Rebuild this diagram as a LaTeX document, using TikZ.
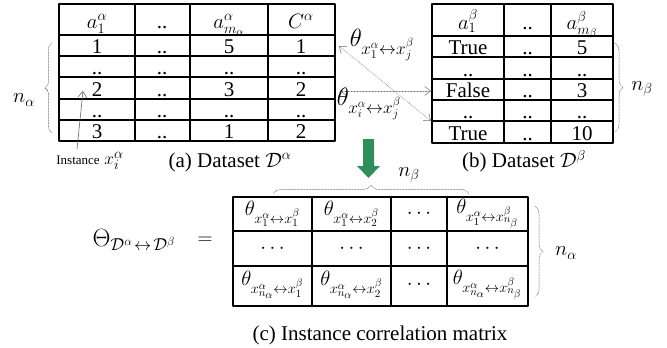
\documentclass[tikz,border=0pt]{standalone}
\usepackage{fontspec}
\setmainfont{Liberation Serif}
\usetikzlibrary{arrows.meta,decorations.pathreplacing}
\definecolor{arrowgreen}{RGB}{46,143,90}
\begin{document}
\begin{tikzpicture}[x=1pt,y=-1pt,line cap=round,line join=round,
  font=\fontsize{21}{24}\selectfont,
  tab/.style={line width=1.1pt},
  cell/.style={anchor=base,inner sep=0pt},
  mcell/.style={inner sep=0pt,font=\fontsize{22}{24}\selectfont},
  dotarr/.style={black!55,line width=0.5pt,densely dotted,{Straight Barb[length=6pt,width=9pt]}-{Straight Barb[length=6pt,width=9pt]}},
  dotbrace/.style={black!70,line width=0.5pt,densely dotted,decorate,decoration={brace,amplitude=#1}}]
  \useasboundingbox (0,0) rectangle (667,348);
  % (a) dataset alpha
  \draw[tab] (59,4) rectangle (335,141);
  \draw[tab] (59,35) -- (335,35);
  \draw[tab] (59,56) -- (335,56);
  \draw[tab] (59,77) -- (335,77);
  \draw[tab] (59,99) -- (335,99);
  \draw[tab] (59,120) -- (335,120);
  \draw[tab] (135,4) -- (135,141);
  \draw[tab] (190,4) -- (190,141);
  \draw[tab] (268,4) -- (268,141);
  \node[cell] (ah1) at (97,28) {$a_1^{\alpha}$};
  \node[cell] (ah2) at (162,28) {..};
  \node[cell] (ah3) at (229,28) {$a_{m_{\alpha}}^{\alpha}$};
  \node[cell] (ah4) at (301,28) {$C^{\alpha}$};
  \node[cell] (a11) at (97,53) {1};
  \node[cell] (a12) at (162,53) {..};
  \node[cell] (a13) at (229,53) {5};
  \node[cell] (a14) at (301,53) {1};
  \node[cell] (a21) at (97,74) {..};
  \node[cell] (a22) at (162,74) {..};
  \node[cell] (a23) at (229,74) {..};
  \node[cell] (a24) at (301,74) {..};
  \node[cell] (a31) at (97,96) {2};
  \node[cell] (a32) at (162,96) {..};
  \node[cell] (a33) at (229,96) {3};
  \node[cell] (a34) at (301,96) {2};
  \node[cell] (a41) at (97,117) {..};
  \node[cell] (a42) at (162,117) {..};
  \node[cell] (a43) at (229,117) {..};
  \node[cell] (a44) at (301,117) {..};
  \node[cell] (a51) at (97,138) {3};
  \node[cell] (a52) at (162,138) {..};
  \node[cell] (a53) at (229,138) {1};
  \node[cell] (a54) at (301,138) {2};
  \draw[dotbrace=7pt] (52,133) -- (52,43);
  \node (na) at (24,100) {$n_{\alpha}$};
  \node[font=\fontsize{19}{21}\selectfont] (inst) at (90,161) {{\fontsize{13}{15}\selectfont Instance} $x_i^{\alpha}$};
  \coordinate (ifoot) at (77,149);
  \coordinate (itip) at (83,91);
  \draw[black!60,line width=0.6pt,-{Straight Barb[length=6pt,width=9pt]}] (ifoot) -- (itip);
  \node (capa) at (230,162) {(a) Dataset $\mathcal{D}^{\alpha}$};
  % (b) dataset beta
  \draw[tab] (432,4) rectangle (613,143);
  \draw[tab] (432,36) -- (613,36);
  \draw[tab] (432,57) -- (613,57);
  \draw[tab] (432,79) -- (613,79);
  \draw[tab] (432,100) -- (613,100);
  \draw[tab] (432,121) -- (613,121);
  \draw[tab] (504,4) -- (504,143);
  \draw[tab] (551,4) -- (551,143);
  \node[cell] (bh1) at (468,29) {$a_1^{\beta}$};
  \node[cell] (bh2) at (527.5,29) {..};
  \node[cell] (bh3) at (582,29) {$a_{m_{\beta}}^{\beta}$};
  \node[cell] (b11) at (468,54) {True};
  \node[cell] (b12) at (527.5,54) {..};
  \node[cell] (b13) at (582,54) {5};
  \node[cell] (b21) at (468,76) {..};
  \node[cell] (b22) at (527.5,76) {..};
  \node[cell] (b23) at (582,76) {..};
  \node[cell] (b31) at (468,97) {False};
  \node[cell] (b32) at (527.5,97) {..};
  \node[cell] (b33) at (582,97) {3};
  \node[cell] (b41) at (468,118) {..};
  \node[cell] (b42) at (527.5,118) {..};
  \node[cell] (b43) at (582,118) {..};
  \node[cell] (b51) at (468,140) {True};
  \node[cell] (b52) at (527.5,140) {..};
  \node[cell] (b53) at (582,140) {10};
  \draw[dotbrace=8pt] (615,43) -- (615,132);
  \node (nb) at (642,89) {$n_{\beta}$};
  \node (capb) at (524,161) {(b) Dataset $\mathcal{D}^{\beta}$};
  % correlations between instances
  \coordinate (p1) at (339,46);
  \coordinate (p2) at (431,121);
  \coordinate (p3) at (340,91);
  \coordinate (p4) at (431,91);
  \draw[dotarr] (p1) -- (p2);
  \draw[dotarr] (p3) -- (p4);
  \node[font=\fontsize{26}{28}\selectfont] (t1) at (382,45) {$\theta_{x_1^{\alpha}\leftrightarrow x_j^{\beta}}$};
  \node[font=\fontsize{26}{28}\selectfont] (tj) at (369,104) {$\theta_{x_i^{\alpha}\leftrightarrow x_j^{\beta}}$};
  \fill[arrowgreen] (363,139) -- (374,139) -- (374,166) -- (380,166) -- (368.5,178) -- (357,166) -- (363,166) -- cycle;
  % (c) correlation matrix
  \draw[tab] (233,197) rectangle (528,306);
  \draw[tab] (233,231) -- (528,231);
  \draw[tab] (233,266) -- (528,266);
  \draw[tab] (312,197) -- (312,306);
  \draw[tab] (391,197) -- (391,306);
  \draw[tab] (447,197) -- (447,306);
  \node[mcell] (c11) at (272.5,214) {$\theta_{x_1^{\alpha}\leftrightarrow x_1^{\beta}}$};
  \node[mcell] (c12) at (351.5,214) {$\theta_{x_1^{\alpha}\leftrightarrow x_2^{\beta}}$};
  \node[mcell] (c13) at (419,214) {$\cdots$};
  \node[mcell] (c14) at (487.5,214) {$\theta_{x_1^{\alpha}\leftrightarrow x_{n_{\beta}}^{\beta}}$};
  \node[mcell] (c21) at (272.5,248.5) {$\cdots$};
  \node[mcell] (c22) at (351.5,248.5) {$\cdots$};
  \node[mcell] (c23) at (419,248.5) {$\cdots$};
  \node[mcell] (c24) at (487.5,248.5) {$\cdots$};
  \node[mcell] (c31) at (272.5,285) {$\theta_{x_{n_{\alpha}}^{\alpha}\leftrightarrow x_1^{\beta}}$};
  \node[mcell] (c32) at (351.5,285) {$\theta_{x_{n_{\alpha}}^{\alpha}\leftrightarrow x_2^{\beta}}$};
  \node[mcell] (c33) at (419,285) {$\cdots$};
  \node[mcell] (c34) at (487.5,285) {$\theta_{x_{n_{\alpha}}^{\alpha}\leftrightarrow x_{n_{\beta}}^{\beta}}$};
  \draw[dotbrace=9pt] (273,194) -- (469,194);
  \node (nbt) at (409,175) {$n_{\beta}$};
  \draw[dotbrace=8pt] (535,206) -- (535,297);
  \node (nac) at (566,253) {$n_{\alpha}$};
  \node[anchor=west,font=\fontsize{26}{28}\selectfont] (Th) at (89,240) {$\Theta_{\mathcal{D}^{\alpha}\mkern2mu\leftrightarrow\mkern2mu\mathcal{D}^{\beta}}$};
  \node (eq) at (205,241) {$=$};
  \node (capc) at (380,335) {(c) Instance correlation matrix};
\end{tikzpicture}
\end{document}
